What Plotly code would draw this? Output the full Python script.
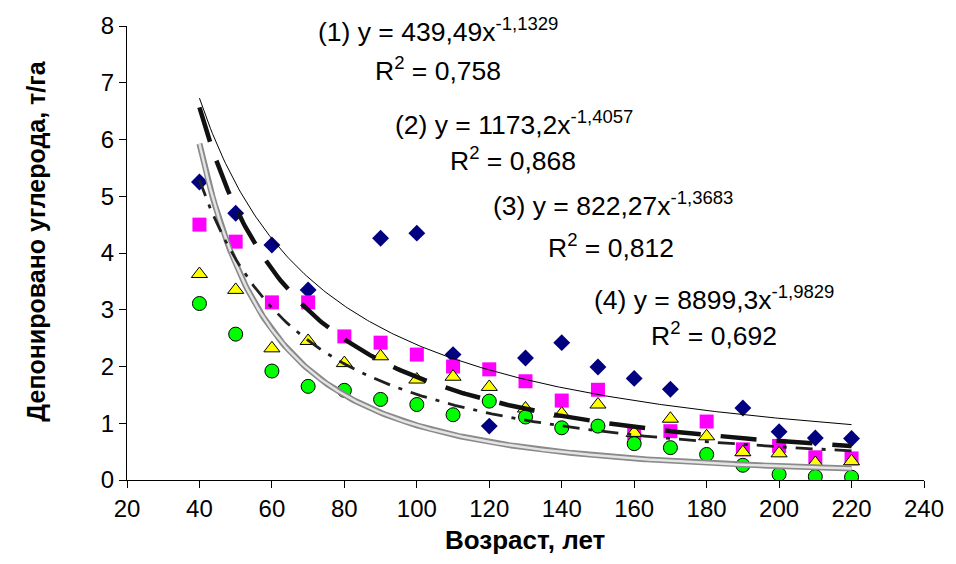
import numpy as np
import plotly.graph_objects as go

ages = [40, 50, 60, 70, 80, 90, 100, 110, 120, 130, 140, 150, 160, 170, 180, 190, 200, 210, 220]
series1 = [5.25, 4.70, 4.14, 3.35, None, 4.26, 4.35, 2.21, 0.95, 2.15, 2.42, 1.99, 1.79, 1.60, None, 1.27, 0.85, 0.74, 0.73]
series2 = [4.50, 4.20, 3.13, 3.13, 2.53, 2.42, 2.21, 2.00, 1.95, 1.74, 1.40, 1.59, 0.83, 0.86, 1.03, 0.54, 0.60, 0.40, 0.38]
series3 = [3.63, 3.35, 2.32, 2.45, 2.06, 2.18, 1.77, 1.82, 1.64, 1.26, 1.17, 1.33, 0.83, 1.08, 0.77, 0.49, 0.47, 0.30, 0.33]
series4 = [3.11, 2.57, 1.92, 1.65, 1.58, 1.42, 1.33, 1.15, 1.39, 1.11, 0.92, 0.95, 0.64, 0.57, 0.45, 0.26, 0.10, 0.06, 0.05]

# power trendlines as printed on the chart: y = a * x^b
trend_a = [439.49, 1173.2, 822.27, 8899.3]
trend_b = [-1.1329, -1.4057, -1.3683, -1.9829]
eq_labels = ["(1) y = 439,49x<sup>-1,1329</sup>", "(2) y = 1173,2x<sup>-1,4057</sup>",
             "(3) y = 822,27x<sup>-1,3683</sup>", "(4) y = 8899,3x<sup>-1,9829</sup>"]
r2_labels = ["R<sup>2</sup> = 0,758", "R<sup>2</sup> = 0,868", "R<sup>2</sup> = 0,812", "R<sup>2</sup> = 0,692"]

x_ticks = [20, 40, 60, 80, 100, 120, 140, 160, 180, 200, 220, 240]
y_ticks = [0, 1, 2, 3, 4, 5, 6, 7, 8]

FONT = "Liberation Sans, Arial, sans-serif"
W, H = 956, 564
L, R, T, B = 127, 929, 24, 480


def px(xp):
    return (xp - L) / (R - L)


def py(yp):
    return (B - yp) / (B - T)


fig = go.Figure()
fig.add_trace(go.Scatter(x=ages, y=series1, mode="markers",
                         marker=dict(symbol="diamond", size=13, color="#000080", line=dict(width=0))))
fig.add_trace(go.Scatter(x=ages, y=series2, mode="markers",
                         marker=dict(symbol="square", size=14, color="#FF00FF", line=dict(width=0))))
fig.add_trace(go.Scatter(x=ages, y=series3, mode="markers",
                         marker=dict(symbol="triangle-up", size=14, color="#FFFF00", line=dict(width=1, color="#000000"))))
fig.add_trace(go.Scatter(x=ages, y=series4, mode="markers",
                         marker=dict(symbol="circle", size=14, color="#00FF00", line=dict(width=1, color="#000000"))))

xt = np.linspace(min(ages), max(ages), 300)
curves = [trend_a[i] * xt ** trend_b[i] for i in range(4)]

# (4) gray double line
fig.add_trace(go.Scatter(x=xt, y=curves[3], mode="lines", line=dict(color="#8a8a8a", width=6)))
fig.add_trace(go.Scatter(x=xt, y=curves[3], mode="lines", line=dict(color="#e4e4e4", width=2.5)))
# (3) dash-dot
fig.add_trace(go.Scatter(x=xt, y=curves[2], mode="lines",
                         line=dict(color="#202020", width=2.8, dash="17px,9px,4px,9px")))
# (2) thick dashed
fig.add_trace(go.Scatter(x=xt, y=curves[1], mode="lines",
                         line=dict(color="#111111", width=4.5, dash="36px,20px")))
# (1) thin solid
fig.add_trace(go.Scatter(x=xt, y=curves[0], mode="lines", line=dict(color="#000000", width=1)))

ann = []
eq_pos = [(440, 28, 440, 67), (516, 121, 515, 158), (616, 203, 614, 245), (718, 297, 718, 333)]
for i, (x1, y1, x2, y2) in enumerate(eq_pos):
    ann.append(dict(x=px(x1), y=py(y1), xref="paper", yref="paper", text=eq_labels[i], showarrow=False,
                    xanchor="center", yanchor="middle", font=dict(family=FONT, size=26.5, color="#000")))
    ann.append(dict(x=px(x2), y=py(y2), xref="paper", yref="paper", text=r2_labels[i], showarrow=False,
                    xanchor="center", yanchor="middle", font=dict(family=FONT, size=26.5, color="#000")))

ann.append(dict(x=px(528), y=py(540), xref="paper", yref="paper", text="<b>Возраст, лет</b>", showarrow=False,
                xanchor="center", yanchor="middle", font=dict(family=FONT, size=26, color="#000")))
ann.append(dict(x=px(35), y=py(240), xref="paper", yref="paper", text="<b>Депонировано углерода, т/га</b>",
                showarrow=False, textangle=-90, xanchor="center", yanchor="middle",
                font=dict(family=FONT, size=25, color="#000")))

fig.update_layout(
    width=W, height=H,
    margin=dict(l=L, r=W - R, t=T, b=H - B),
    paper_bgcolor="white", plot_bgcolor="white",
    showlegend=False,
    annotations=ann,
    xaxis=dict(range=[20, 240], tickvals=x_ticks, ticktext=[str(v) for v in x_ticks],
               showgrid=False, zeroline=False, showline=True, linecolor="black", linewidth=1,
               ticks="outside", ticklen=7, tickcolor="black", tickfont=dict(family=FONT, size=24, color="#000")),
    yaxis=dict(range=[0, 8], tickvals=y_ticks, ticktext=[str(v) for v in y_ticks],
               showgrid=False, zeroline=False, showline=True, linecolor="black", linewidth=1,
               ticks="outside", ticklen=7, tickcolor="black", tickfont=dict(family=FONT, size=24, color="#000")),
)

fig.write_html("out.html")
